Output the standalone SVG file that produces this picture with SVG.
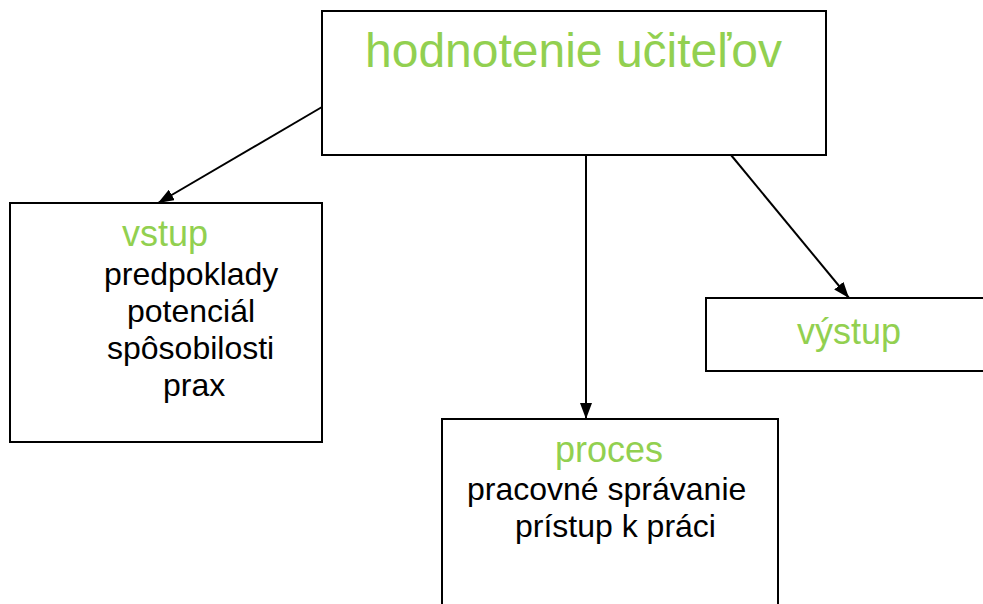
<svg xmlns="http://www.w3.org/2000/svg" width="983" height="604" viewBox="0 0 983 604">
<style>
.box{fill:#fff;stroke:#000;stroke-width:2}
.g{fill:#92D050;font-family:"Liberation Sans",Arial,sans-serif;font-size:36px}
.b{fill:#000;font-family:"Liberation Sans",Arial,sans-serif;font-size:32px}
.c{stroke:#000;stroke-width:2;fill:none;marker-end:url(#ah)}
</style>
<defs>
<marker id="ah" viewBox="0 0 16 12" refX="16" refY="6" markerWidth="16" markerHeight="12" markerUnits="userSpaceOnUse" orient="auto">
<path d="M0,0 L16,6 L0,12 Z" fill="#000"/>
</marker>
</defs>
<rect width="983" height="604" fill="#fff"/>
<g id="hodnotenie">
<rect class="box" x="322" y="11" width="504" height="144"/>
<text class="g" x="365" y="67" style="font-size:48px">hodnotenie učiteľov</text>
</g>
<g id="vstup">
<rect class="box" x="10" y="203" width="312" height="239"/>
<text class="g" x="122" y="246">vstup</text>
<text class="b" x="104" y="285">predpoklady</text>
<text class="b" x="127" y="322">potenciál</text>
<text class="b" x="107" y="359">spôsobilosti</text>
<text class="b" x="163" y="396">prax</text>
</g>
<g id="vystup">
<rect class="box" x="706" y="298" width="290" height="73"/>
<text class="g" x="797" y="344">výstup</text>
</g>
<g id="proces">
<rect class="box" x="442" y="419" width="336" height="200"/>
<text class="g" x="555" y="462">proces</text>
<text class="b" x="467" y="500">pracovné správanie</text>
<text class="b" x="515" y="537">prístup k práci</text>
</g>
<g id="connectors">
<line class="c" x1="322" y1="107" x2="158" y2="203"/>
<line class="c" x1="586" y1="155" x2="586" y2="419"/>
<line class="c" x1="731" y1="155" x2="849" y2="298"/>
</g>
</svg>
